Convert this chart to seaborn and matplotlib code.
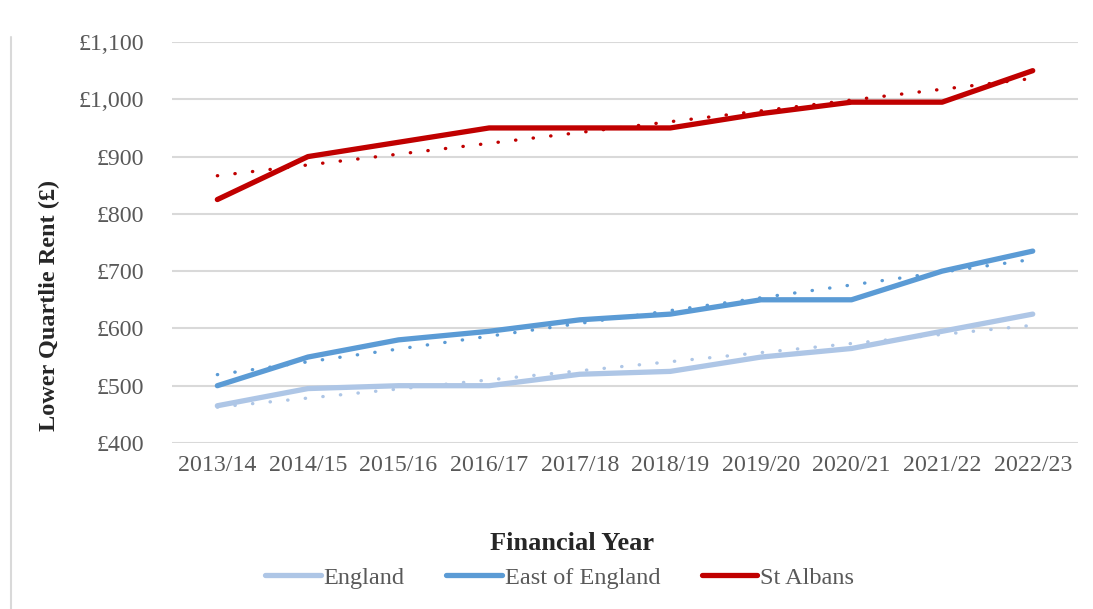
import matplotlib
matplotlib.use('Agg')
import matplotlib.pyplot as plt
from matplotlib.lines import Line2D
from matplotlib.ticker import FuncFormatter
import seaborn as sns
import pandas as pd
import numpy as np

years = ["2013/14", "2014/15", "2015/16", "2016/17", "2017/18",
         "2018/19", "2019/20", "2020/21", "2021/22", "2022/23"]
england = [465, 495, 500, 500, 520, 525, 550, 565, 595, 625]
east_of_england = [500, 550, 580, 595, 615, 625, 650, 650, 700, 735]
st_albans = [825, 900, 925, 950, 950, 950, 975, 995, 995, 1050]

series = {"England": england, "East of England": east_of_england, "St Albans": st_albans}
colors = {"England": "#aec6e6", "East of England": "#5b9bd5", "St Albans": "#c00000"}

pos = np.arange(len(years))
df = pd.concat([
    pd.DataFrame({"pos": pos, "Year": years, "Rent": vals, "Area": name})
    for name, vals in series.items()
])

sns.set_style("white")
plt.rcParams['font.family'] = ['Liberation Serif', 'DejaVu Serif']

fig = plt.figure(figsize=(10.93, 6.09), dpi=100)
ax = fig.add_axes([0.1574, 0.2726, 0.8289, 0.6584])

grey = "#595959"
ax.set_ylim(400, 1100)
ax.set_xlim(-0.5, len(years) - 0.5)
ax.set_yticks(range(400, 1101, 100))
ax.yaxis.set_major_formatter(FuncFormatter(lambda v, p: f"£{int(v):,}"))
ax.grid(axis="y", color="#d9d9d9", linewidth=1.5)
ax.set_axisbelow(True)

# linear trendlines (dotted)
for name in series:
    sub = df[df["Area"] == name]
    sns.regplot(data=sub, x="pos", y="Rent", ax=ax, scatter=False, ci=None,
                line_kws=dict(color=colors[name], linewidth=2.4,
                              linestyle=(0, (0.1, 5.2)), dash_capstyle="round"))

sns.lineplot(data=df, x="pos", y="Rent", hue="Area", palette=colors, ax=ax,
             linewidth=3.8, solid_capstyle="round", legend=False)

ax.set_xticks(pos)
ax.set_xticklabels(years)
ax.tick_params(axis="both", length=0, labelsize=17.2, labelcolor=grey)
ax.tick_params(axis="y", pad=20)
ax.tick_params(axis="x", pad=9)
for s in ax.spines.values():
    s.set_visible(False)

ax.set_ylabel("Lower Quartlie Rent (£)", fontsize=17.5, fontweight="bold")
ax.yaxis.set_label_coords(-0.124, 0.344)
ax.set_xlabel("")
fig.text(0.523, 1 - 543 / 609, "Financial Year", fontsize=19, fontweight="bold",
         ha="center", va="center")

handles = [Line2D([0], [0], color=colors[n], linewidth=3.8, solid_capstyle="round") for n in series]
fig.legend(handles, list(series.keys()), loc="center", bbox_to_anchor=(0.512, 0.051), ncol=3,
           frameon=False, fontsize=17.5, labelcolor=grey, handlelength=2.3,
           handletextpad=0.12, columnspacing=1.7)

fig.add_artist(Line2D([0.0105, 0.0105], [0.0, 0.94], color="#d9d9d9", linewidth=1.5,
                      transform=fig.transFigure))

fig.savefig("out.png", dpi=100)
